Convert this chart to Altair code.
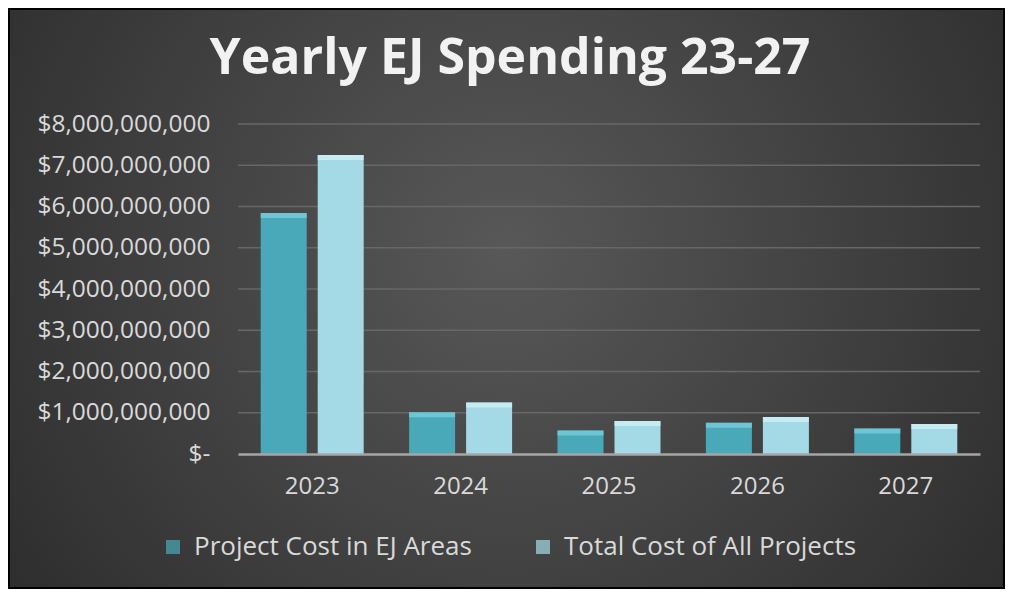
import altair as alt
import pandas as pd

years = ["2023", "2024", "2025", "2026", "2027"]
series = ["Project Cost in EJ Areas", "Total Cost of All Projects"]
ej_cost = [5.84e9, 1.01e9, 0.57e9, 0.76e9, 0.62e9]
total_cost = [7.25e9, 1.25e9, 0.80e9, 0.90e9, 0.73e9]
y_ticks = [1e9, 2e9, 3e9, 4e9, 5e9, 6e9, 7e9, 8e9]

bar_colors = ["#49a9b9", "#a4dae5"]
cap_colors = ["#7fd3e1", "#d3f4f9"]

rows = []
for i, yr in enumerate(years):
    rows.append({"year": yr, "series": series[0], "value": ej_cost[i], "cap": cap_colors[0]})
    rows.append({"year": yr, "series": series[1], "value": total_cost[i], "cap": cap_colors[1]})
df = pd.DataFrame(rows)

W, H = 742, 330
PL, PT, PR, PB = 230, 116, 25, 135

y_scale = alt.Scale(domain=[0, 8e9], nice=False, zero=True)
x_scale = alt.Scale(domain=years, paddingInner=0.306, paddingOuter=0.153)
off_scale = alt.Scale(domain=series, paddingInner=0.193, paddingOuter=0)

y_axis = alt.Axis(
    title=None,
    values=[0] + y_ticks,
    labelExpr="datum.value == 0 ? '$-\u00a0\u00a0\u00a0' : format(datum.value, '$,.0f')",
    labelFont="Open Sans",
    labelFontSize=24.5,
    labelColor="#d9d9d9",
    labelPadding=28,
    ticks=False,
    domain=False,
    grid=False,
    zindex=1,
)

bg = alt.Chart(alt.Data(values=[{"a": 1}])).mark_rect(
    fill={
        "gradient": "radial",
        "x1": 0.5, "y1": 0.45, "r1": 0,
        "x2": 0.5, "y2": 0.45, "r2": 0.72,
        "stops": [
            {"offset": 0, "color": "#585858"},
            {"offset": 1, "color": "#262626"},
        ],
    },
    stroke="#000000",
    strokeWidth=2,
).encode(
    x=alt.value(-PL + 1),
    x2=alt.value(W + PR - 1),
    y=alt.value(-PT + 1),
    y2=alt.value(H + PB - 1),
)

grid = alt.Chart(pd.DataFrame({"value": y_ticks})).mark_rule(
    color="#676767", strokeWidth=1.5
).encode(y=alt.Y("value:Q", scale=y_scale, axis=y_axis))

bars = alt.Chart(df).mark_bar().encode(
    x=alt.X(
        "year:N",
        scale=x_scale,
        sort=years,
        axis=alt.Axis(
            title=None,
            labelFont="Open Sans",
            labelFontSize=24,
            labelColor="#d9d9d9",
            labelPadding=20,
            ticks=False,
            domainColor="#a6a6a6",
            domainWidth=2.5,
            labelAngle=0,
            zindex=1,
        ),
    ),
    xOffset=alt.XOffset("series:N", scale=off_scale, sort=series),
    y=alt.Y("value:Q", scale=y_scale, axis=y_axis),
    color=alt.Color(
        "series:N",
        scale=alt.Scale(domain=series, range=bar_colors),
        sort=series,
        legend=alt.Legend(
            title=None,
            orient="none",
            direction="horizontal",
            legendX=-78,
            legendY=410,
            symbolType="square",
            symbolSize=196,
            symbolStrokeWidth=0,
            symbolOpacity=1,
            labelFont="Open Sans",
            labelFontSize=26,
            labelColor="#d9d9d9",
            labelOffset=8,
            labelLimit=400,
            columnPadding=58,
            padding=0,
            zindex=1,
        ),
    ),
)

caps = alt.Chart(df).mark_tick(
    orient="horizontal", thickness=5, size=46, yOffset=2.5
).encode(
    x=alt.X("year:N", scale=x_scale, sort=years),
    xOffset=alt.XOffset("series:N", scale=off_scale, sort=series),
    y=alt.Y("value:Q", scale=y_scale, axis=y_axis),
    color=alt.Color("cap:N", scale=None),
)

chart = alt.layer(bg, grid, bars, caps).properties(
    width=W,
    height=H,
    autosize="none",
    padding={"left": PL, "top": PT, "right": PR, "bottom": PB},
    background="#333333",
    title=alt.Title(
        "Yearly EJ Spending 23-27",
        font="Open Sans",
        fontSize=50,
        fontWeight="bold",
        color="#f2f2f2",
        anchor="middle",
        dx=-99,
        offset=-116,
        baseline="alphabetic",
        zindex=1,
    ),
).configure_view(stroke=None).configure_title(limit=0)

chart.save("out.html", embed_options={"renderer": "svg", "actions": False})
